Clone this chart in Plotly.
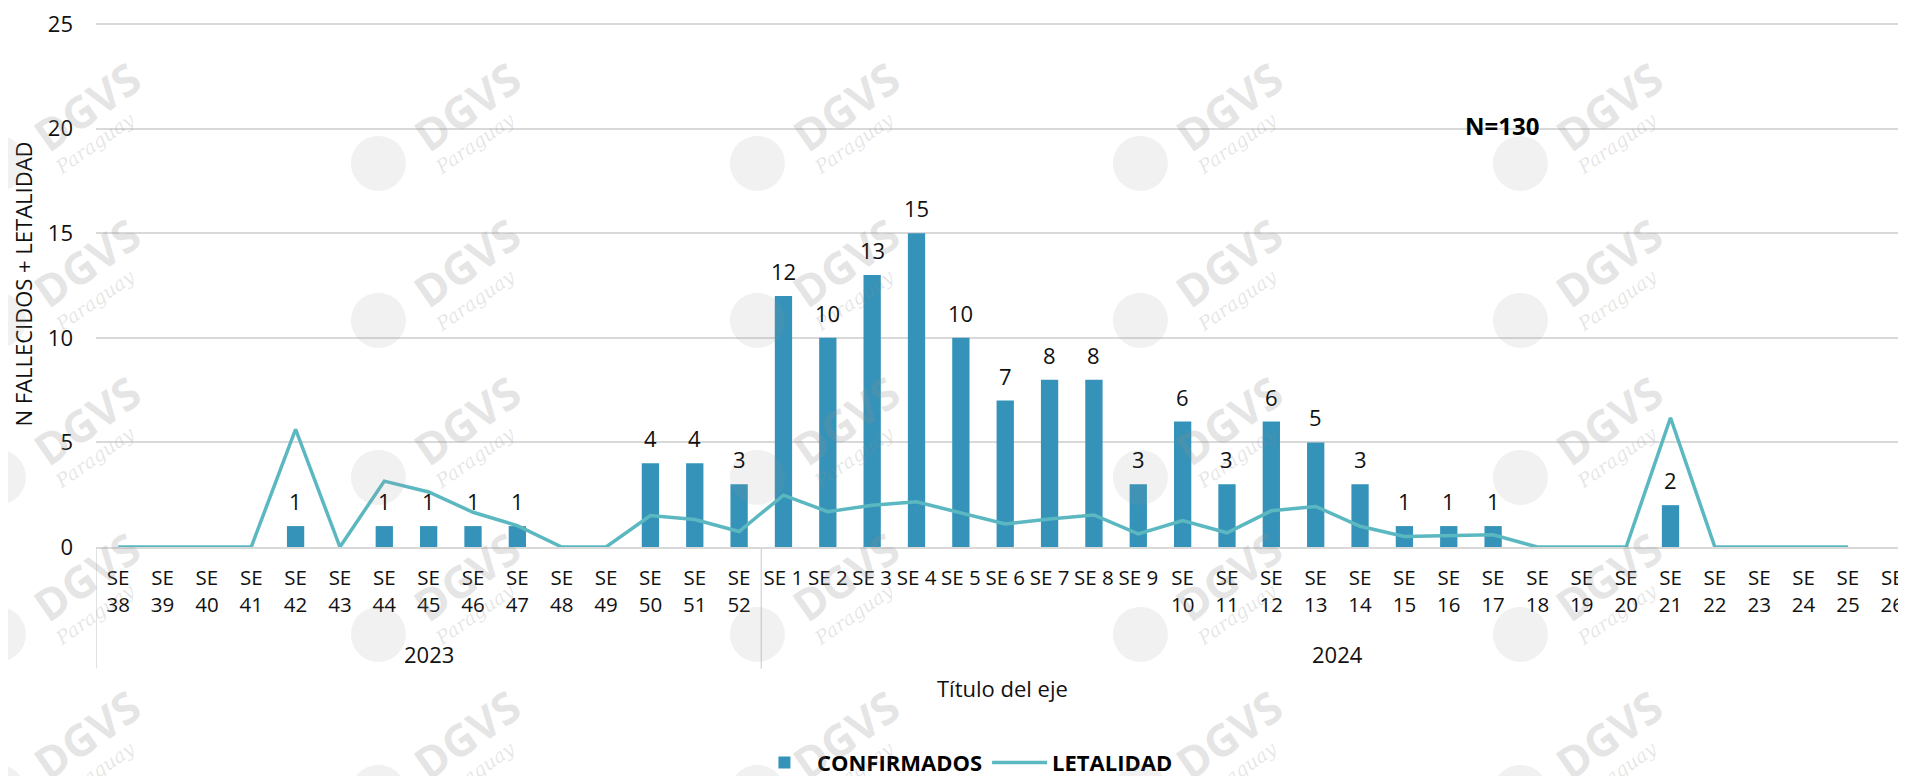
import plotly.graph_objects as go

# ---------------- data ----------------
years = ["2023"] * 15 + ["2024"] * 26
weeks = [f"SE {n}" for n in range(38, 53)] + [f"SE {n}" for n in range(1, 27)]
confirmados = [0, 0, 0, 0, 1, 0, 1, 1, 1, 1, 0, 0, 4, 4, 3,
               12, 10, 13, 15, 10, 7, 8, 8, 3, 6, 3, 6, 5, 3, 1, 1, 1, 0, 0, 0, 2, 0, 0, 0, 0, 0]
letalidad = [0, 0, 0, 0, 5.63, 0, 3.15, 2.63, 1.66, 1.02, 0, 0, 1.50, 1.31, 0.74,
             2.48, 1.69, 2.0, 2.16, 1.62, 1.10, 1.34, 1.53, 0.63, 1.26, 0.68, 1.73, 1.94, 0.99,
             0.50, 0.52, 0.58, 0, 0, 0, 6.18, 0, 0, 0, 0, None]
n_total = "N=130"
watermark_brand = "DGVS"
watermark_sub = "Paraguay"

# ---------------- styling ----------------
FONT = "Open Sans, Noto Sans, sans-serif"
BAR_COLOR = "#3593BA"
LINE_COLOR = "#5BB8C1"
GRID = "#D9D9D9"
TXT = "#111111"
FS = 22
TFS = 20.5

# page is offset by the default 8px body margin; margins compensate
OFF = 8
YMAX = 25.15
UNIT = 21.1
PB_PAGE = 548.3
PT_PAGE = PB_PAGE - YMAX * UNIT
PL_PAGE = 96.1
PL, PT, PB = PL_PAGE - OFF, PT_PAGE - OFF, PB_PAGE - OFF
W, H = 1906, 776
PH = PB - PT
PW = W - PL
SPACING = 44.35


def px(page_x):
    return (page_x - PL_PAGE) / PW


def py(page_y):
    return (PB_PAGE - page_y) / PH


x_idx = list(range(len(weeks)))
tick_text = []
for y, w in zip(years, weeks):
    num = int(w.split()[1])
    if y == "2024" and num < 10:
        tick_text.append(w)
    else:
        tick_text.append(w.replace(" ", "<br>"))

fig = go.Figure()
fig.add_trace(go.Bar(
    x=x_idx, y=confirmados, name="CONFIRMADOS",
    marker=dict(color=BAR_COLOR, line=dict(width=0)),
    width=0.39,
))
fig.add_trace(go.Scatter(
    x=x_idx, y=letalidad, name="LETALIDAD", mode="lines",
    line=dict(color=LINE_COLOR, width=3.5),
    connectgaps=False,
))

annotations = []

# faint watermark (DGVS Paraguay), tiled like the reference background
WM = "rgba(140,140,140,0.22)"
for wy in [103, 261, 420, 578, 737]:
    for wx in [87, 467, 846, 1229, 1609]:
        annotations.append(dict(x=px(wx - 88), y=py(wy + 52), xref="paper", yref="paper",
                                xanchor="center", yanchor="middle",
                                text="●", showarrow=False,
                                font=dict(family="DejaVu Sans", size=72, color="rgba(150,150,150,0.13)")))
        annotations.append(dict(x=px(wx), y=py(wy), xref="paper", yref="paper",
                                xanchor="center", yanchor="middle",
                                text=f"<b>{watermark_brand}</b>", showarrow=False, textangle=-35,
                                font=dict(family="Open Sans", size=44, color=WM)))
        annotations.append(dict(x=px(wx + 8), y=py(wy + 38), xref="paper", yref="paper",
                                xanchor="center", yanchor="middle",
                                text=f"<i>{watermark_sub}</i>", showarrow=False, textangle=-35,
                                font=dict(family="DejaVu Serif", size=19, color=WM)))

for i, v in zip(x_idx, confirmados):
    if v:
        annotations.append(dict(x=i, y=v, xref="x", yref="y", text=str(v), showarrow=False,
                                xanchor="center", yanchor="middle", yshift=25,
                                font=dict(family=FONT, size=FS, color=TXT)))

for yr in ["2023", "2024"]:
    idx = [i for i, y in zip(x_idx, years) if y == yr]
    annotations.append(dict(x=(idx[0] + idx[-1]) / 2, y=py(656), xref="x", yref="paper",
                            text=yr, showarrow=False, xanchor="center", yanchor="middle",
                            font=dict(family=FONT, size=FS, color=TXT)))

annotations.append(dict(x=px(1003), y=py(691), xref="paper", yref="paper", text="Título del eje",
                        showarrow=False, xanchor="center", yanchor="middle",
                        font=dict(family=FONT, size=FS, color=TXT)))
annotations.append(dict(x=px(1502), y=py(123), xref="paper", yref="paper",
                        text=f"<b>{n_total}</b>", showarrow=False, xanchor="center", yanchor="middle",
                        font=dict(family=FONT, size=24, color="#000000")))

shapes = []
first_2024 = years.index("2024")
for xv in [-0.5, first_2024 - 0.5]:
    shapes.append(dict(type="line", xref="x", yref="paper", x0=xv, x1=xv, y0=0, y1=py(671),
                       line=dict(color=GRID, width=1.5)))

fig.update_layout(
    width=W, height=H,
    margin=dict(l=PL, r=0, t=PT, b=H - PB, pad=0),
    plot_bgcolor="white", paper_bgcolor="white",
    font=dict(family=FONT, size=FS, color=TXT),
    showlegend=True,
    legend=dict(orientation="h", x=px(965), xanchor="center", y=py(766), yanchor="middle",
                font=dict(family=FONT, size=22, color="#000000", weight="bold"),
                itemwidth=55, traceorder="normal"),
    annotations=annotations,
    shapes=shapes,
)
fig.update_xaxes(
    range=[-0.5, -0.5 + PW / SPACING], tickmode="array", tickvals=x_idx, ticktext=tick_text,
    tickangle=0, ticklabeloverflow="allow",
    showgrid=False, showline=True, linecolor=GRID, linewidth=1.5,
    ticks="", ticklabelstandoff=12, tickfont=dict(family=FONT, size=TFS, color=TXT),
    zeroline=False,
)
fig.update_yaxes(
    range=[0, YMAX], tickvals=[0, 5, 10, 15, 20, 25], showgrid=True, gridcolor=GRID, gridwidth=1.5,
    zeroline=False, showline=False, ticks="", ticklabelstandoff=22, ticklabeloverflow="allow",
    tickfont=dict(family=FONT, size=FS, color=TXT),
    title=dict(text="N FALLECIDOS + LETALIDAD", standoff=12,
               font=dict(family=FONT, size=FS, color=TXT)),
)

fig.write_html("out.html")
